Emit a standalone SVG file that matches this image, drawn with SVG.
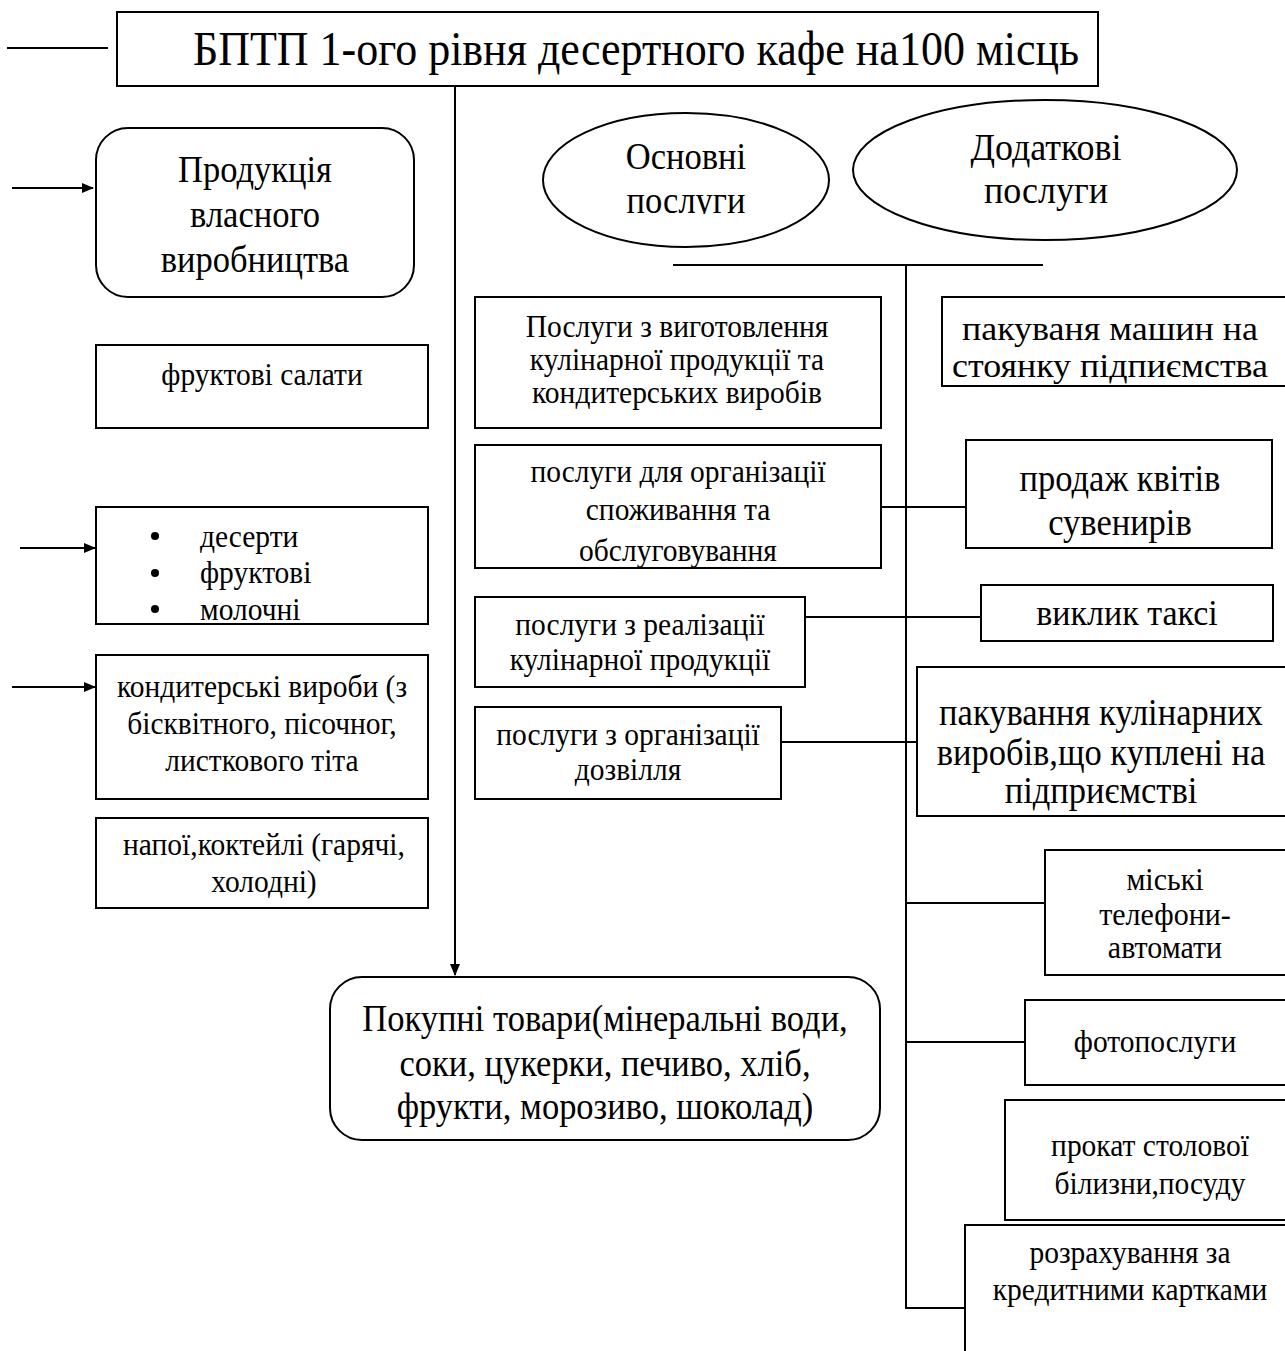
<svg xmlns="http://www.w3.org/2000/svg" width="1285" height="1351" viewBox="0 0 1285 1351">
<style>
.b{fill:#fff;stroke:#000;stroke-width:2}
.l{fill:none;stroke:#000;stroke-width:2}
text{font-family:"Liberation Serif","Times New Roman",serif;fill:#000;text-anchor:middle;transform-box:fill-box;transform-origin:center;transform:scaleY(1.08)}
text.ns{transform:none}
.st{text-anchor:start}
.t44{font-size:44px}
.t35{font-size:34.5px}
.t36{font-size:36px}
.t34{font-size:34px}
.t33{font-size:33px}
.t30{font-size:30px}
.t29{font-size:29.5px}
</style>
<defs>
<marker id="ah" markerWidth="12" markerHeight="10" refX="11" refY="5" orient="auto" markerUnits="userSpaceOnUse">
<path d="M0,0 L12,5 L0,10 z" fill="#000"/>
</marker>
<clipPath id="cOsn"><rect x="540" y="110" width="300" height="104"/></clipPath>
<clipPath id="cS2"><rect x="475" y="445" width="406" height="122"/></clipPath>
<clipPath id="cBul"><rect x="96" y="507" width="332" height="116"/></clipPath>
<clipPath id="cE1"><rect x="942" y="297" width="343" height="88"/></clipPath>
</defs>
<rect width="1285" height="1351" fill="#fff"/>
<g id="connectors">
<line class="l" x1="7" y1="48" x2="108" y2="48"/>
<line class="l" x1="455" y1="86" x2="455" y2="975" marker-end="url(#ah)"/>
<line class="l" x1="12" y1="188" x2="93" y2="188" marker-end="url(#ah)"/>
<line class="l" x1="20" y1="548" x2="95" y2="548" marker-end="url(#ah)"/>
<line class="l" x1="12" y1="687" x2="95" y2="687" marker-end="url(#ah)"/>
<line class="l" x1="673" y1="265" x2="1043" y2="265"/>
<polyline class="l" points="906,265 906,1308 965,1308"/>
<line class="l" x1="881" y1="507" x2="966" y2="507"/>
<line class="l" x1="805" y1="617" x2="981" y2="617"/>
<line class="l" x1="781" y1="742" x2="917" y2="742"/>
<line class="l" x1="906" y1="903" x2="1045" y2="903"/>
<line class="l" x1="906" y1="1042" x2="1025" y2="1042"/>
</g>
<g id="title">
<rect class="b" x="117" y="12" width="981" height="74"/>
<text class="t44" x="636" y="64">БПТП 1-ого рівня десертного кафе на100 місць</text>
</g>
<g id="own-production">
<rect class="b" x="96" y="128" width="318" height="169" rx="32"/>
<text class="t35" x="255" y="181">Продукція</text>
<text class="t35" x="255" y="226">власного</text>
<text class="t35" x="255" y="271">виробництва</text>
</g>
<g id="fruit-salads">
<rect class="b" x="96" y="345" width="332" height="83"/>
<text class="t29" x="262" y="384">фруктові салати</text>
</g>
<g id="desserts">
<rect class="b" x="96" y="507" width="332" height="117"/>
<circle cx="155" cy="536" r="4"/>
<circle cx="155" cy="573" r="4"/>
<circle cx="155" cy="609" r="4"/>
<g clip-path="url(#cBul)">
<text class="t29 st" x="200" y="546">десерти</text>
<text class="t29 st" x="200" y="582">фруктові</text>
<text class="t29 st" x="200" y="619">молочні</text>
</g>
</g>
<g id="confectionery">
<rect class="b" x="96" y="655" width="332" height="144"/>
<text class="t29" x="262" y="696">кондитерські вироби (з</text>
<text class="t29" x="262" y="733">бісквітного, пісочног,</text>
<text class="t29" x="262" y="770">листкового тіта</text>
</g>
<g id="drinks">
<rect class="b" x="96" y="818" width="332" height="90"/>
<text class="t29" x="264" y="854">напої,коктейлі (гарячі,</text>
<text class="t29" x="264" y="891">холодні)</text>
</g>
<g id="basic-services">
<ellipse class="b" cx="686" cy="180" rx="143" ry="67"/>
<g clip-path="url(#cOsn)">
<text class="t35" x="686" y="168">Основні</text>
<text class="t35" x="686" y="212">послуги</text>
</g>
</g>
<g id="extra-services">
<ellipse class="b" cx="1045" cy="170" rx="192" ry="70"/>
<text class="t36" x="1046" y="159">Додаткові</text>
<text class="t36" x="1046" y="202">послуги</text>
</g>
<g id="s1">
<rect class="b" x="475" y="297" width="406" height="131"/>
<text class="t29" x="677" y="336">Послуги з виготовлення</text>
<text class="t29" x="677" y="369">кулінарної продукції та</text>
<text class="t29" x="677" y="402">кондитерських виробів</text>
</g>
<g id="s2">
<rect class="b" x="475" y="445" width="406" height="123"/>
<g clip-path="url(#cS2)">
<text class="t29" x="678" y="481">послуги для організації</text>
<text class="t29" x="678" y="519">споживання та</text>
<text class="t29" x="678" y="560">обслуговування</text>
</g>
</g>
<g id="s3">
<rect class="b" x="475" y="597" width="330" height="90"/>
<text class="t29" x="640" y="634">послуги з реалізації</text>
<text class="t29" x="640" y="669">кулінарної продукції</text>
</g>
<g id="s4">
<rect class="b" x="475" y="707" width="306" height="92"/>
<text class="t29" x="628" y="744">послуги з організації</text>
<text class="t29" x="628" y="779">дозвілля</text>
</g>
<g id="e1">
<rect class="b" x="942" y="297" width="350" height="89"/>
<g clip-path="url(#cE1)">
<text class="t33 ns" x="1110" y="340" textLength="296" lengthAdjust="spacingAndGlyphs">пакуваня машин на</text>
<text class="t33 ns" x="1110" y="377" textLength="316" lengthAdjust="spacingAndGlyphs">стоянку підпиємства</text>
</g>
</g>
<g id="e2">
<rect class="b" x="966" y="440" width="306" height="108"/>
<text class="t35" x="1120" y="490">продаж квітів</text>
<text class="t35" x="1120" y="534">сувенирів</text>
</g>
<g id="e3">
<rect class="b" x="981" y="585" width="292" height="56"/>
<text class="t34" x="1127" y="624">виклик таксі</text>
</g>
<g id="e4">
<rect class="b" x="917" y="667" width="380" height="149"/>
<text class="t35" x="1101" y="724">пакування кулінарних</text>
<text class="t35" x="1101" y="764">виробів,що куплені на</text>
<text class="t35" x="1101" y="802">підприємстві</text>
</g>
<g id="e5">
<rect class="b" x="1045" y="850" width="250" height="125"/>
<text class="t30" x="1165" y="889">міські</text>
<text class="t30" x="1165" y="924">телефони-</text>
<text class="t30" x="1165" y="957">автомати</text>
</g>
<g id="e6">
<rect class="b" x="1025" y="1000" width="270" height="85"/>
<text class="t29" x="1155" y="1051">фотопослуги</text>
</g>
<g id="e7">
<rect class="b" x="1005" y="1100" width="290" height="120"/>
<text class="t29" x="1150" y="1155">прокат столової</text>
<text class="t29" x="1150" y="1193">білизни,посуду</text>
</g>
<g id="e8">
<rect class="b" x="965" y="1225" width="330" height="140"/>
<text class="t29" x="1130" y="1262">розрахування за</text>
<text class="t29" x="1130" y="1299">кредитними картками</text>
</g>
<g id="purchased">
<rect class="b" x="330" y="977" width="550" height="163" rx="32"/>
<text class="t35" x="605" y="1030">Покупні товари(мінеральні води,</text>
<text class="t35" x="605" y="1075">соки, цукерки, печиво, хліб,</text>
<text class="t35" x="605" y="1118">фрукти, морозиво, шоколад)</text>
</g>
</svg>
